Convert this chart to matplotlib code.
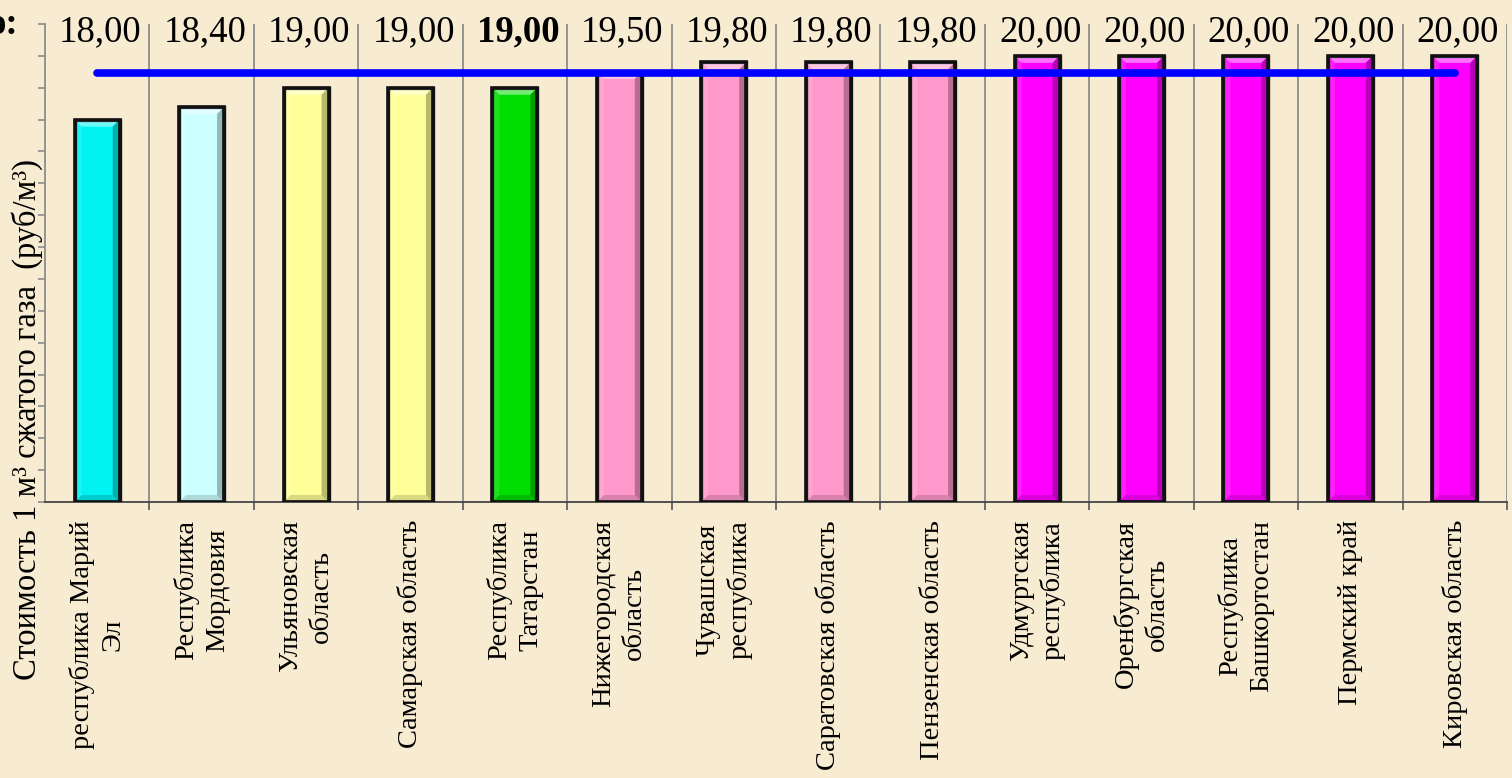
import numpy as np
import matplotlib
matplotlib.use("Agg")
import matplotlib.pyplot as plt
from matplotlib.patches import Polygon, Rectangle

# ---- data ----
regions = ["республика Марий\nЭл", "Республика\nМордовия", "Ульяновская\nобласть",
           "Самарская область", "Республика\nТатарстан", "Нижегородская\nобласть",
           "Чувашская\nреспублика", "Саратовская область", "Пензенская область",
           "Удмуртская\nреспублика", "Оренбургская\nобласть", "Республика\nБашкортостан",
           "Пермский край", "Кировская область"]
prices = [18.00, 18.40, 19.00, 19.00, 19.00, 19.50, 19.80, 19.80, 19.80,
          20.00, 20.00, 20.00, 20.00, 20.00]
value_labels = ["18,00", "18,40", "19,00", "19,00", "19,00", "19,50", "19,80", "19,80",
                "19,80", "20,00", "20,00", "20,00", "20,00", "20,00"]
bar_colors = ["#00F2F2", "#CCFFFF", "#FFFF99", "#FFFF99", "#00DD00", "#FF99CC",
              "#FF99CC", "#FF99CC", "#FF99CC", "#FF00FF", "#FF00FF", "#FF00FF",
              "#FF00FF", "#FF00FF"]
highlight_index = 4
ylabel_text = "Стоимость 1 м³ сжатого газа  (руб/м³)"
average_price = float(np.mean(prices))

SERIF = ["Liberation Serif", "DejaVu Serif"]
W, H = 1512, 778
fig = plt.figure(figsize=(W / 100, H / 100), dpi=100)
fig.patch.set_facecolor("#F7EBD2")

ax_left, ax_right, ax_top, ax_bottom = 45, 1507, 24, 502
ax = fig.add_axes([ax_left / W, (H - ax_bottom) / H,
                   (ax_right - ax_left) / W, (ax_bottom - ax_top) / H])
ax.set_facecolor("none")

n = len(prices)
x = np.arange(n)
ax.set_xlim(-0.5, n - 0.5)
ax.set_ylim(6, 21)

bar_w = 0.43
bars = ax.bar(x, [p - 6 for p in prices], bottom=6, width=bar_w, color=bar_colors,
              edgecolor="#111111", linewidth=2.4, zorder=3)

# bevel decoration derived from each bar
px_x = (ax_right - ax_left) / n
px_y = (ax_bottom - ax_top) / 15.0
bx = 7 / px_x
by = 7 / px_y
for xi, p in zip(x, prices):
    l, r = xi - bar_w / 2, xi + bar_w / 2
    top, bot = p, 6
    ax.add_patch(Polygon([[l, top], [r, top], [r - bx, top - by], [l + bx, top - by]],
                         closed=True, facecolor="white", alpha=0.45, lw=0, zorder=4))
    ax.add_patch(Polygon([[r, top], [r, bot], [r - bx, bot + by], [r - bx, top - by]],
                         closed=True, facecolor="black", alpha=0.28, lw=0, zorder=4))
    ax.add_patch(Polygon([[l, top], [l, bot], [l + bx, bot + by], [l + bx, top - by]],
                         closed=True, facecolor="white", alpha=0.12, lw=0, zorder=4))
    ax.add_patch(Polygon([[l, bot], [r, bot], [r - bx, bot + by], [l + bx, bot + by]],
                         closed=True, facecolor="black", alpha=0.15, lw=0, zorder=4))
    ax.add_patch(Rectangle((l, bot), bar_w, top - bot, fill=False,
                           edgecolor="#111111", lw=2.6, zorder=5))

# average line
ax.plot([x[0], x[-1]], [average_price, average_price], color="#0000FF", lw=5.5,
        solid_capstyle="round", zorder=6)

# value labels
for xi, lab, i in zip(x, value_labels, range(n)):
    ax.text(xi + 0.03, 20.76, lab, ha="center", va="center", fontsize=26.5,
            family=SERIF, fontweight="bold" if i == highlight_index else "normal",
            clip_on=False, zorder=7)

# axes styling
for s in ["top", "right"]:
    ax.spines[s].set_visible(False)
ax.spines["left"].set_color("#8C8C8C")
ax.spines["left"].set_linewidth(1.3)
ax.spines["bottom"].set_color("#444444")
ax.spines["bottom"].set_linewidth(1.3)

ax.set_yticks(np.arange(6, 22, 1))
ax.set_yticklabels([])
ax.tick_params(axis="y", length=5, width=1.2, color="#8C8C8C", direction="out")

ax.set_xticks(x)
ax.set_xticklabels(regions, rotation=90, fontsize=20.5, family=SERIF,
                   ha="center", va="top", multialignment="center", linespacing=1.3)
ax.tick_params(axis="x", which="major", length=0, pad=13)
ax.set_xticks(np.arange(0.5, n, 1), minor=True)
ax.tick_params(axis="x", which="minor", length=6, width=1.2, color="#555555",
               direction="out")
ax.grid(axis="x", which="minor", color="#8C8C8C", linewidth=1.3, zorder=1)
ax.set_axisbelow(True)

# y label
fig.text(27 / W, 1 - 420 / H, ylabel_text, rotation=90, ha="center", va="center",
         fontsize=23.5, family=SERIF)

# clipped title fragment at top-left (cut off in the original as well)
fig.text(18 / W, 1 - 25 / H, "о:", ha="right", va="center", fontsize=26.5,
         family=SERIF, fontweight="bold")

fig.savefig("out.png", dpi=100, facecolor=fig.get_facecolor())
